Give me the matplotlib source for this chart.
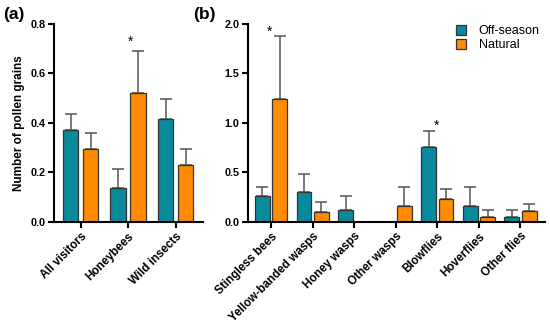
import matplotlib.pyplot as plt
import numpy as np
from matplotlib.patches import Patch

plt.rcParams['font.family'] = ['Liberation Sans', 'DejaVu Sans']

groups_a = ["All visitors", "Honeybees", "Wild insects"]
offseason_a = [0.37, 0.137, 0.416]
offseason_a_err = [0.064, 0.077, 0.082]
natural_a = [0.294, 0.52, 0.23]
natural_a_err = [0.063, 0.17, 0.064]

groups_b = ["Stingless bees", "Yellow-banded wasps", "Honey wasps", "Other wasps",
            "Blowflies", "Hoverflies", "Other flies"]
offseason_b = [0.263, 0.306, 0.124, 0.0, 0.755, 0.165, 0.054]
offseason_b_err = [0.094, 0.182, 0.136, 0.0, 0.167, 0.185, 0.064]
natural_b = [1.245, 0.10, 0.0, 0.165, 0.235, 0.054, 0.108]
natural_b_err = [0.635, 0.105, 0.0, 0.185, 0.095, 0.064, 0.072]

teal = '#08899C'
orange = '#FF8C00'
edge = '#333333'
errc = '#555555'


def draw_panel(ax, names, off, off_err, nat, nat_err, width, shift, ymax, step):
    x = np.arange(len(names))
    for vals, errs, col, sgn in [(off, off_err, teal, -1), (nat, nat_err, orange, 1)]:
        xs = x + sgn * shift
        h = np.array(vals)
        e = np.array(errs)
        mask = h > 0
        ax.bar(xs[mask], h[mask], width, color=col, edgecolor=edge, linewidth=0.9, zorder=2)
        ax.errorbar(xs[mask], h[mask], yerr=[np.zeros(mask.sum()), e[mask]], fmt='none',
                    ecolor=errc, elinewidth=1.1, capsize=4, capthick=1.1, zorder=1)
    ax.set_xticks(x)
    ax.set_xticklabels(names, rotation=45, ha='right', rotation_mode='anchor',
                       fontsize=8.4, fontweight='bold')
    ticks = np.arange(0, ymax + 1e-9, step)
    ax.set_ylim(0, ymax)
    ax.set_yticks(ticks)
    ax.set_yticklabels([f"{v:.1f}" for v in ticks], fontsize=7.8, fontweight='bold')
    for s in ['top', 'right']:
        ax.spines[s].set_visible(False)
    for s in ['left', 'bottom']:
        ax.spines[s].set_linewidth(1.5)
    ax.tick_params(width=1.5, length=4, pad=2)


fig = plt.figure(figsize=(5.5, 3.24), dpi=100)
ax_a = fig.add_axes([0.098, 0.315, 0.271, 0.612])
ax_b = fig.add_axes([0.45, 0.315, 0.541, 0.612])

draw_panel(ax_a, groups_a, offseason_a, offseason_a_err, natural_a, natural_a_err,
           0.32, 0.21, 0.8, 0.2)
ax_a.set_xlim(-0.56, 2.575)
ax_a.set_ylabel("Number of pollen grains", fontsize=8.5, fontweight='bold', labelpad=4)
ax_a.text(1.05, 0.725, "*", ha='center', va='center', fontsize=10)

draw_panel(ax_b, groups_b, offseason_b, offseason_b_err, natural_b, natural_b_err,
           0.36, 0.21, 2.0, 0.5)
ax_b.set_xlim(-0.57, 6.595)
ax_b.text(-0.05, 1.92, "*", ha='center', va='center', fontsize=10)
ax_b.text(3.98, 0.97, "*", ha='center', va='center', fontsize=10)

handles = [Patch(facecolor=teal, edgecolor=edge, linewidth=0.9),
           Patch(facecolor=orange, edgecolor=edge, linewidth=0.9)]
ax_b.legend(handles, ["Off-season", "Natural"], loc='upper right', frameon=False,
            fontsize=9, handlelength=0.8, handleheight=0.8, handletextpad=1.0,
            labelspacing=0.15, bbox_to_anchor=(1.02, 1.05))

fig.text(0.005, 0.955, "(a)", fontsize=12.5, fontweight='bold', va='center')
fig.text(0.352, 0.955, "(b)", fontsize=12.5, fontweight='bold', va='center')

fig.savefig("out.png", dpi=100)
